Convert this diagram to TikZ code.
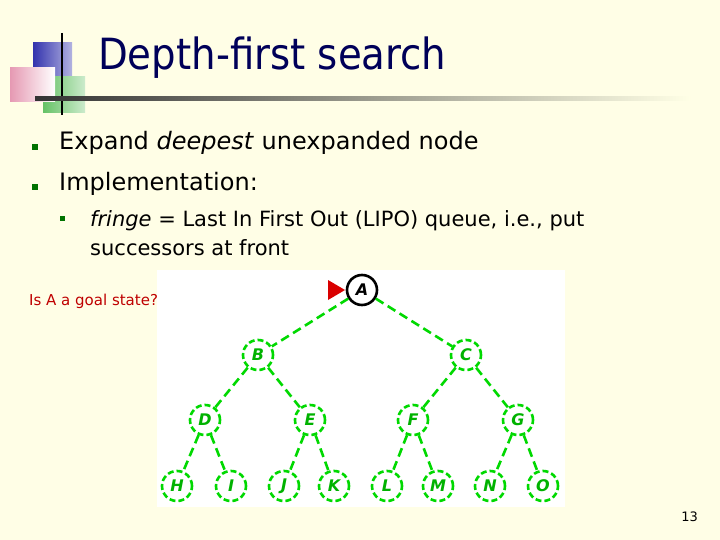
\documentclass[tikz,border=0pt]{standalone}
\usepackage{fontspec}
\setmainfont{DejaVu Sans}
\newfontfamily\condfont{DejaVu Sans Condensed}
\begin{document}
\begin{tikzpicture}[x=1pt,y=-1pt,
  tn/.style={circle,draw=green!85!black,line width=2.6pt,dash pattern=on 6pt off 3pt,minimum size=30pt,inner sep=0pt,text=green!70!black,font=\fontsize{16}{16}\selectfont\itshape\bfseries},
  te/.style={draw=green!85!black,line width=2.6pt,dash pattern=on 9pt off 5pt},
  bul/.style={fill=green!45!black,minimum size=6pt,inner sep=0pt},
  body/.style={anchor=base west,inner sep=0pt,font=\fontsize{24}{28}\selectfont}]
\useasboundingbox (0,0) rectangle (720,540);
\fill[yellow!10] (0,0) rectangle (720,540);
% logo
\shade[left color=blue!60!black!80,right color=blue!60!black!30] (33,43) rectangle (72,78);
\shade[left color=green!60!black!60,right color=green!60!black!20] (43,77) rectangle (85,113);
\shade[left color=purple!40, right color=white] (10,68) rectangle (55,102);
\draw[line width=1.5pt] (62,33) -- (62,115);
\shade[left color=black!80,right color=yellow!10] (35,97) rectangle (690,101);
\node[anchor=base west,inner sep=0pt,text=blue!35!black,font=\condfont\fontsize{43}{43}\selectfont] (title) at (98,70) {Depth-first search};
% bullets
\node[bul] (b1) at (35,147) {};
\node[bul] (b2) at (35,187) {};
\node[bul,minimum size=5pt] (b3) at (62,219) {};
\node[body] (t1) at (59,150) {Expand \textit{deepest} unexpanded node};
\node[body] (t2) at (59,191) {Implementation:};
\node[body,font=\fontsize{21}{25}\selectfont] (t3) at (90,226) {\textit{fringe} = Last In First Out (LIPO) queue, i.e., put};
\node[body,font=\fontsize{21}{25}\selectfont] (t4) at (90,255) {successors at front};
\node[anchor=base west,inner sep=0pt,text=red!75!black,font=\fontsize{15}{15}\selectfont] (q) at (29,305) {Is A a goal state?};
% tree
\fill[white] (157,270) rectangle (565,507);
\node[circle,draw=black,line width=2.6pt,minimum size=30pt,inner sep=0pt,font=\fontsize{16}{16}\selectfont\itshape\bfseries] (A) at (362,290) {A};
\fill[red!85!black] (328,280) -- (345,290) -- (328,300) -- cycle;
\node[tn] (B) at (258,355) {B};
\node[tn] (C) at (466,355) {C};
\node[tn] (D) at (205,420) {D};
\node[tn] (E) at (310,420) {E};
\node[tn] (F) at (413,420) {F};
\node[tn] (G) at (518,420) {G};
\foreach \n/\x in {H/177,I/231,J/284,K/334,L/387,M/438,N/490,O/543}
  \node[tn] (\n) at (\x,486) {\n};
\foreach \a/\b in {A/B,A/C,B/D,B/E,C/F,C/G,D/H,D/I,E/J,E/K,F/L,F/M,G/N,G/O}
  \draw[te] (\a) -- (\b);
\node[anchor=base east,inner sep=0pt,font=\fontsize{13}{13}\selectfont] (pg) at (698,521) {13};
\end{tikzpicture}
\end{document}
